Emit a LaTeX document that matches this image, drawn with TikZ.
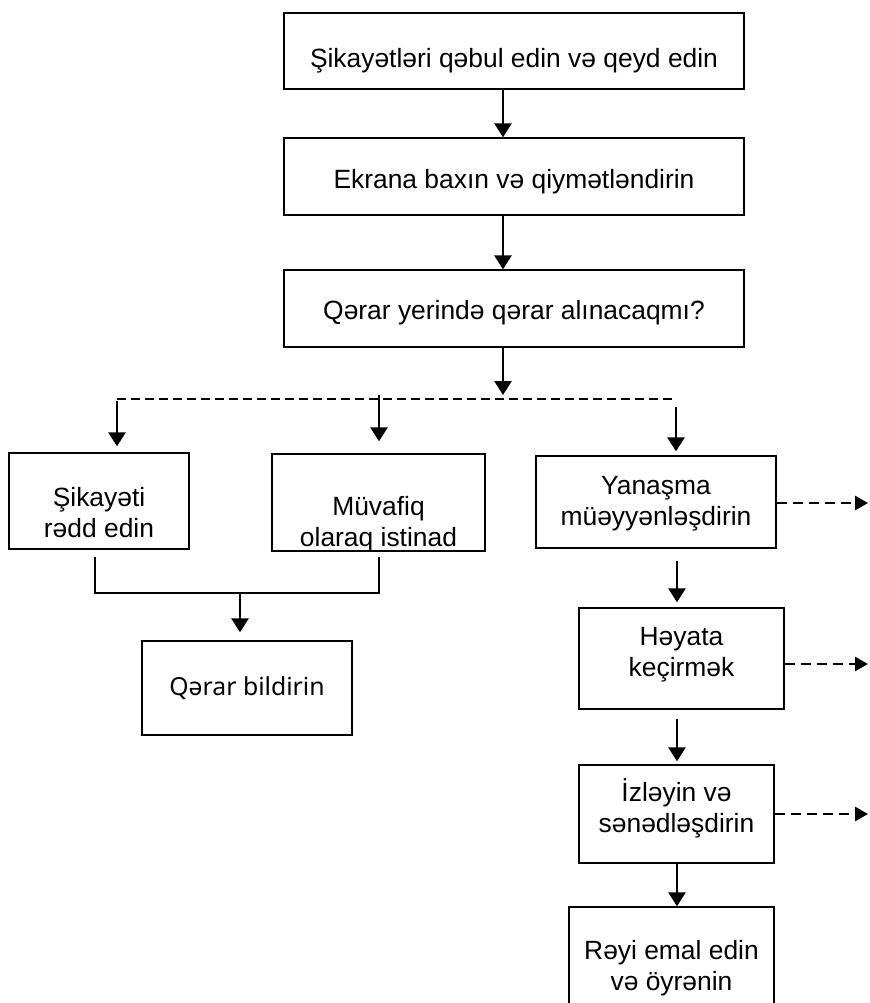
\documentclass[tikz,border=0pt]{standalone}
\usepackage{fontspec}
\setmainfont{Liberation Sans}
\newfontfamily\notosans{Noto Sans}
\usetikzlibrary{arrows.meta}

\tikzset{
  box/.style={draw, line width=0.65pt, inner sep=0pt},
  arr/.style={line width=1.3pt, -{Triangle[length=7pt,width=8.5pt]}},
  plain/.style={line width=1.3pt},
  bus/.style={line width=0.65pt, dash pattern=on 4.5pt off 2.5pt},
  outarr/.style={line width=1.3pt, dash pattern=on 5pt off 3pt, -{Triangle[length=6.5pt,width=7pt]}},
}

\begin{document}
\begin{tikzpicture}[x=0.5pt,y=-0.5pt,font=\fontsize{13.2}{15.5}\selectfont]
\clip (0,0) rectangle (870,1003);
% main column
\node[box, minimum width=230pt, minimum height=38pt, label={[yshift=-5pt]center:Şikayətləri qəbul edin və qeyd edin}] (recv) at (514,51) {};
\node[box, minimum width=230pt, minimum height=38.5pt, label={[yshift=-2.75pt]center:Ekrana baxın və qiymətləndirin}] (screen) at (514,176.5) {};
\node[box, minimum width=230pt, minimum height=38.5pt, label={[yshift=-2.25pt]center:Qərar yerində qərar alınacaqmı?}] (decide) at (514,308.5) {};
% branches
\node[box, minimum width=90pt, minimum height=48pt, label={[yshift=-5.75pt,align=center]center:Şikayəti\\rədd edin}] (rej) at (99,501) {};
\node[box, minimum width=106.5pt, minimum height=48.5pt, label={[yshift=-10.75pt,align=center]center:Müvafiq\\olaraq istinad}] (ref) at (378.5,502.5) {};
\node[box, minimum width=120pt, minimum height=46pt, label={[yshift=-1pt,align=center]center:Yanaşma\\müəyyənləşdirin}] (yan) at (656,502) {};
\node[box, minimum width=105pt, minimum height=47pt, label={[font=\notosans\fontsize{12.4}{15}\selectfont]center:Qərar bildirin}] (notify) at (247,688) {};
% right column
\node[box, minimum width=102.5pt, minimum height=50.5pt, label={[yshift=1.75pt,align=center]center:Həyata\\keçirmək}] (act) at (681.5,658.5) {};
\node[box, minimum width=97.5pt, minimum height=49pt, label={[yshift=3pt,align=center]center:İzləyin və\\sənədləşdirin}] (mon) at (676.5,814) {};
\node[box, minimum width=102.5pt, minimum height=61pt, label={[align=center]center:Rəyi emal edin\\və öyrənin}] (rev) at (671.5,968) {};

% connectors
\coordinate (spine) at (503,0);
\coordinate (busL) at (117,399);
\coordinate (busM) at (379,399);
\coordinate (busR) at (676,399);
\draw[arr] (recv.south -| spine) -- (screen.north -| spine);
\draw[arr] (screen.south -| spine) -- (decide.north -| spine);
\draw[arr, shorten >=2pt] (decide.south -| spine) -- (spine |- busL);
\draw[bus] (busL) -- (busR);
\draw[arr, shorten <=1pt, shorten >=3pt] (busL) -- (busL |- rej.north);
\draw[arr, shorten <=-2pt, shorten >=6pt] (busM) -- (busM |- ref.north);
\draw[arr, shorten <=4pt, shorten >=2pt] (busR) -- (busR |- yan.north);

\coordinate (jl) at (95,593);
\coordinate (jm) at (240,593);
\coordinate (jr) at (379,593);
\draw[plain, shorten <=3.5pt, shorten >=2.5pt] (jl |- rej.south) -- (jl) -- (jr) -- (jr |- ref.south);
\draw[arr, shorten >=4pt] (jm) -- (jm |- notify.north);

\coordinate (rcol) at (677,0);
\draw[arr, shorten <=6pt, shorten >=2.5pt] (yan.south -| rcol) -- (act.north -| rcol);
\draw[arr, shorten <=4.5pt, shorten >=1.5pt] (act.south -| rcol) -- (mon.north -| rcol);
\draw[arr] (mon.south -| rcol) -- (rev.north -| rcol);

\coordinate (o1) at (868,503);
\coordinate (o2) at (868,664);
\coordinate (o3) at (868,814);
\draw[outarr] (yan.east |- o1) -- (o1);
\draw[outarr] (act.east |- o2) -- (o2);
\draw[outarr] (mon.east |- o3) -- (o3);
\end{tikzpicture}
\end{document}
